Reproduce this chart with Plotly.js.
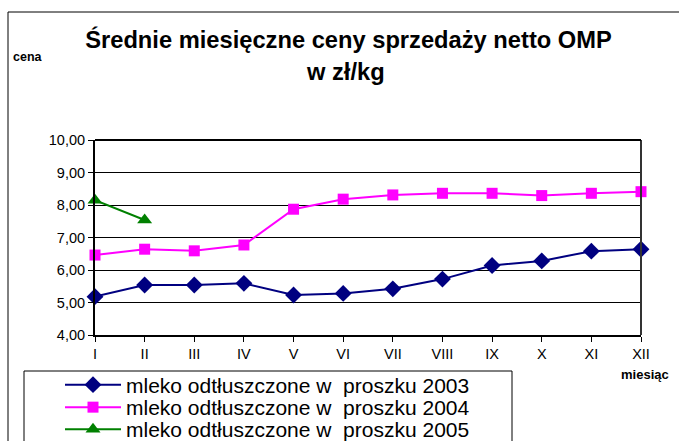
<!DOCTYPE html>
<html><head><meta charset="utf-8">
<script src="https://cdn.plot.ly/plotly-3.0.1.min.js"></script>
<style>html,body{margin:0;padding:0;background:#fff}#chart{width:679px;height:441px}</style>
</head><body><div id="chart"></div>
<script>
const months = ['I','II','III','IV','V','VI','VII','VIII','IX','X','XI','XII'];
const omp2003 = [5.18,5.54,5.54,5.59,5.23,5.28,5.42,5.72,6.14,6.28,6.58,6.64];
const omp2004 = [6.46,6.64,6.59,6.77,7.87,8.18,8.31,8.36,8.36,8.29,8.36,8.41];
const omp2005 = [8.15,7.54];
const names = ['mleko odtłuszczone w  proszku 2003','mleko odtłuszczone w  proszku 2004','mleko odtłuszczone w  proszku 2005'];

const W=679,H=441,L=95,R=38,T=140,B=106;
const pw=W-L-R, ph=H-T-B;
const px=x=>(x-L)/pw, py=y=>(H-B-y)/ph;
const F='Liberation Sans, Arial, sans-serif';

const traces=[
 {x:months,y:omp2003,name:names[0],legend:'legend',mode:'lines+markers',line:{color:'#000080',width:2},marker:{symbol:'diamond',size:13,color:'#000080'},cliponaxis:false},
 {x:months,y:omp2004,name:names[1],legend:'legend2',mode:'lines+markers',line:{color:'#FF00FF',width:2},marker:{symbol:'square',size:11,color:'#FF00FF'},cliponaxis:false},
 {x:months.slice(0,omp2005.length),y:omp2005,name:names[2],legend:'legend3',mode:'lines+markers',line:{color:'#008000',width:2},marker:{symbol:'triangle-up',size:13,color:'#008000'},cliponaxis:false}
];
const leg=(yc)=>({x:px(60),y:py(yc),xanchor:'left',yanchor:'middle',borderwidth:0,bgcolor:'rgba(0,0,0,0)',font:{size:21,family:F},itemwidth:56});
const layout={
 width:W,height:H,margin:{l:L,r:R,t:T,b:B,autoexpand:false},
 paper_bgcolor:'#fff',plot_bgcolor:'#fff',separators:',.',
 font:{family:F,color:'#000'},
 title:{text:'<b>Średnie miesięczne ceny sprzedaży netto OMP</b>',font:{family:F,size:23.7,color:'#000'},x:348.5/W,xanchor:'center',y:1-40/H,yanchor:'middle',xref:'container',yref:'container'},
 xaxis:{type:'category',range:[0,11],showgrid:false,showline:true,linewidth:2,linecolor:'#000',mirror:false,ticks:'outside',ticklen:5,tickcolor:'#000',tickfont:{size:14.5,family:F},zeroline:false,fixedrange:true},
 yaxis:{range:[4,10],dtick:1,tickformat:'.2f',showgrid:true,gridcolor:'#000',gridwidth:1,showline:true,linewidth:2,linecolor:'#000',ticks:'outside',ticklen:5,tickcolor:'#000',tickfont:{size:14.5,family:F},zeroline:false,fixedrange:true},
 legend:leg(385),legend2:leg(407.5),legend3:leg(429.5),
 showlegend:true,
 shapes:[
  {type:'line',xref:'paper',yref:'paper',x0:1,x1:1,y0:0,y1:1,line:{color:'#333',width:2}},
  {type:'line',xref:'paper',yref:'paper',x0:0,x1:1,y0:1,y1:1,line:{color:'#000',width:2}},
  {type:'rect',xref:'paper',yref:'paper',x0:px(8),x1:px(700),y0:py(470),y1:py(12),line:{color:'#000',width:1},layer:'below'},
  {type:'rect',xref:'paper',yref:'paper',x0:px(24),x1:px(512),y0:py(470),y1:py(371),line:{color:'#000',width:1},fillcolor:'#fff',layer:'below'}
 ],
 annotations:[
  {text:'<b>w zł/kg</b>',xref:'paper',yref:'paper',x:px(345),y:py(72),xanchor:'center',yanchor:'middle',showarrow:false,font:{family:F,size:23.7}},
  {text:'<b>cena</b>',xref:'paper',yref:'paper',x:px(11),y:py(57),xanchor:'left',yanchor:'middle',showarrow:false,font:{family:F,size:12.5}},
  {text:'<b>miesiąc</b>',xref:'paper',yref:'paper',x:px(645),y:py(374),xanchor:'center',yanchor:'middle',showarrow:false,font:{family:F,size:13}}
 ]
};
Plotly.newPlot('chart',traces,layout,{displayModeBar:false,staticPlot:true});
</script></body></html>
